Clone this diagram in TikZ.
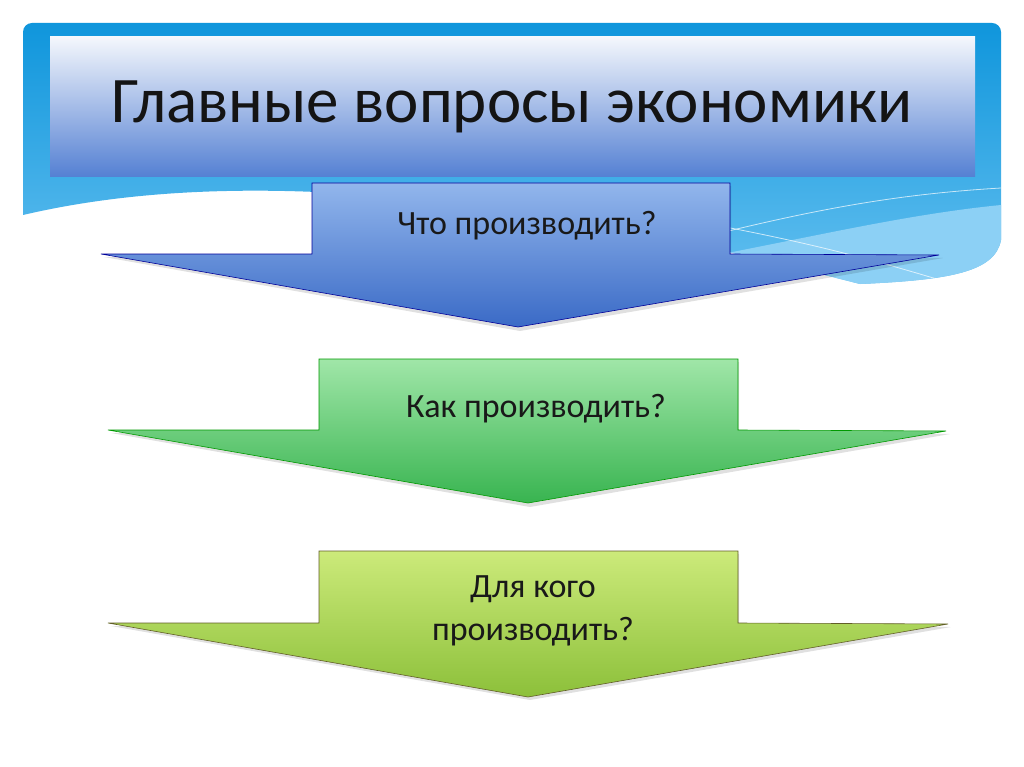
\documentclass[tikz,border=0pt]{standalone}
\usepackage{fontspec}
\setmainfont{Carlito}
\definecolor{bandtop}{RGB}{8,146,218}
\definecolor{bandbot}{RGB}{100,192,240}
\definecolor{bandlight}{RGB}{140,208,245}
\begin{document}
\begin{tikzpicture}[x=1pt,y=-1pt,
  arrowshape/.style={draw=#1!60!black,line width=0.6pt},
  lbl/.style={font=\fontsize{34}{43}\selectfont,text=black!90,align=center},
  shadowshape/.style={fill=black,opacity=0.12},
  wave/.style={white,opacity=0.7,line width=0.8pt}]
\useasboundingbox (0,0) rectangle (1024,767);
\fill[white] (0,0) rectangle (1024,767);
% blue band
\begin{scope}
\path[clip] (23,215) {[rounded corners=9pt] -- (23,23) -- (1001,23)} -- (1001,240) .. controls (995,272) and (950,280) .. (860,284) .. controls (650,230) and (300,150) .. (23,215) -- cycle;
\shade[top color=bandtop,bottom color=bandbot] (0,0) rectangle (1024,290);
\fill[bandlight] (1001,205) .. controls (900,215) and (800,240) .. (680,262) -- (680,300) -- (1024,300) -- (1024,205) -- cycle;
\draw[wave] (700,238) .. controls (820,208) and (900,194) .. (1001,188);
\draw[wave] (720,226) .. controls (820,245) and (880,262) .. (940,280);
\end{scope}
% title
\shade[top color={rgb,255:red,244;green,247;blue,252},bottom color={rgb,255:red,84;green,128;blue,211}] (50,37) rectangle (975,177);
\node[font=\fontsize{65}{75}\selectfont,text=black!92] (title) at (512,107) {Главные вопросы экономики};
% arrow 1
\fill[shadowshape] (313,186) -- (731,186) -- (731,257) -- (943,258) -- (520,331) -- (104,257) -- (313,257) -- cycle;
\shade[top color={rgb,255:red,146;green,182;blue,236},bottom color={rgb,255:red,58;green,106;blue,198},arrowshape=blue]
  (312,183) -- (730,183) -- (730,254) -- (939,255) -- (518,327) -- (101,254) -- (312,254) -- cycle;
\node[lbl] (q1) at (527,226) {Что производить?};
% arrow 2
\fill[shadowshape] (320,362) -- (739,362) -- (739,433) -- (950,434) -- (530,507) -- (111,433) -- (320,433) -- cycle;
\shade[top color={rgb,255:red,160;green,230;blue,168},bottom color={rgb,255:red,56;green,180;blue,80},arrowshape=green]
  (319,359) -- (738,359) -- (738,430) -- (946,431) -- (528,503) -- (108,430) -- (319,430) -- cycle;
\node[lbl] (q2) at (536,409) {Как производить?};
% arrow 3
\fill[shadowshape] (320,554) -- (739,554) -- (739,626) -- (951,627) -- (530,700) -- (111,626) -- (320,626) -- cycle;
\shade[top color={rgb,255:red,204;green,234;blue,122},bottom color={rgb,255:red,140;green,192;blue,58},arrowshape=olive]
  (319,551) -- (738,551) -- (738,623) -- (948,624) -- (528,697) -- (108,623) -- (319,623) -- cycle;
\node[lbl] (q3) at (533,611) {Для кого\\производить?};
\end{tikzpicture}
\end{document}
